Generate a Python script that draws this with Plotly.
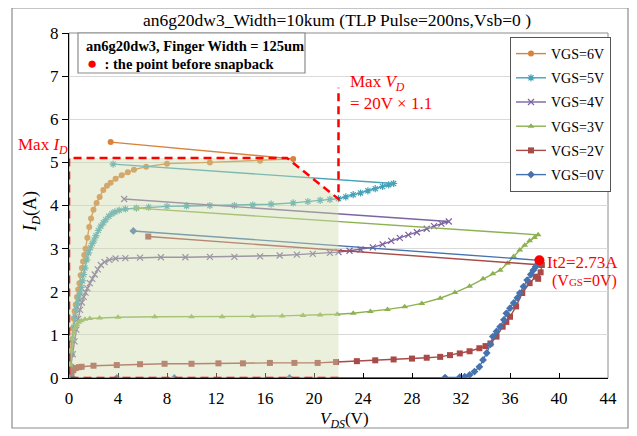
import plotly.graph_objects as go

# ---------------- data ----------------
v_6 = [0, 0.08, 0.15, 0.22, 0.3, 0.38, 0.46, 0.55, 0.65, 0.75, 0.85, 0.95, 1.05, 1.15, 1.25, 1.35, 1.5, 1.65,
       1.8, 2.0, 2.25, 2.5, 2.8, 3.1, 3.4, 3.8, 4.3, 4.8, 5.3, 6.3, 8.0, 11.5, 15.6, 18.3, 3.4]
i_6 = [0, 0.3, 0.6, 0.9, 1.15, 1.38, 1.55, 1.7, 1.88, 2.05, 2.2, 2.38, 2.55, 2.7, 2.85, 3.0, 3.25, 3.5,
       3.7, 3.9, 4.06, 4.2, 4.36, 4.46, 4.53, 4.62, 4.7, 4.77, 4.83, 4.9, 4.97, 5.0, 5.04, 5.08, 5.47]

v_5 = [0, 0.1, 0.2, 0.3, 0.4, 0.5, 0.6, 0.7, 0.8, 0.9, 1.0, 1.1, 1.2, 1.3, 1.45, 1.6, 1.75, 1.9, 2.05, 2.2,
       2.4, 2.6, 2.8, 3.0, 3.25, 3.5, 3.75, 4.1, 4.6, 5.5, 6.5, 8.0, 9.6, 11.5, 13.5, 15.0, 16.5, 18.3, 19.5,
       20.5, 21.3, 22.0, 22.6, 23.2, 23.8, 24.4, 25.0, 25.6, 26.1, 26.5, 3.6]
i_5 = [0, 0.25, 0.55, 0.88, 1.18, 1.42, 1.6, 1.73, 1.85, 1.97, 2.1, 2.25, 2.4, 2.55, 2.74, 2.9, 3.02, 3.12,
       3.2, 3.3, 3.42, 3.52, 3.6, 3.67, 3.75, 3.81, 3.85, 3.89, 3.92, 3.94, 3.96, 3.98, 3.99, 4.0, 4.0, 4.01,
       4.03, 4.06, 4.09, 4.12, 4.14, 4.16, 4.2, 4.25, 4.29, 4.34, 4.39, 4.44, 4.48, 4.51, 4.96]

v_4 = [0, 0.15, 0.3, 0.45, 0.6, 0.75, 0.9, 1.05, 1.2, 1.35, 1.5, 1.7, 1.9, 2.1, 2.35, 2.6, 2.9, 3.3, 3.8,
       4.6, 5.8, 7.5, 9.5, 11.5, 13.5, 15.6, 17.2, 18.6, 19.9, 21.3, 22.0, 22.9, 23.8, 24.8, 25.6, 26.3, 27.0,
       27.7, 28.4, 29.2, 29.8, 30.4, 31.0, 4.5]
i_4 = [0, 0.25, 0.55, 0.85, 1.12, 1.37, 1.58, 1.75, 1.88, 1.98, 2.08, 2.2, 2.3, 2.4, 2.52, 2.62, 2.69, 2.74,
       2.77, 2.78, 2.79, 2.8, 2.8, 2.81, 2.81, 2.82, 2.84, 2.86, 2.88, 2.9, 2.92, 2.95, 2.98, 3.03, 3.1, 3.18,
       3.25, 3.32, 3.38, 3.46, 3.52, 3.58, 3.63, 4.15]

v_3 = [0, 0.1, 0.2, 0.3, 0.4, 0.5, 0.65, 0.8, 1.0, 1.3, 1.7, 2.5, 4.0, 7.0, 10.0, 12.5, 15.0, 17.4, 19.1,
       20.5, 21.9, 23.2, 24.6, 26.0, 27.4, 28.8, 30.3, 31.5, 32.7, 33.8, 34.6, 35.2, 35.8, 36.3, 36.8, 37.2,
       37.6, 38.0, 38.3, 5.5]
i_3 = [0, 0.3, 0.62, 0.9, 1.05, 1.15, 1.24, 1.29, 1.33, 1.36, 1.38, 1.39, 1.41, 1.42, 1.42, 1.42, 1.43, 1.44,
       1.45, 1.46, 1.48, 1.5, 1.54, 1.59, 1.65, 1.73, 1.85, 1.98, 2.13, 2.3, 2.42, 2.5, 2.66, 2.82, 2.97, 3.08,
       3.18, 3.26, 3.32, 3.94]

v_2 = [0, 0.1, 0.2, 0.35, 0.55, 0.8, 1.03, 2.0, 3.9, 5.8, 7.8, 10.0, 12.2, 14.2, 16.4, 18.4, 20.3, 21.8, 23.5,
       25.0, 26.5, 28.0, 29.2, 30.3, 31.1, 31.9, 32.7, 33.5, 34.0, 34.4, 34.9, 35.4, 35.7, 36.0, 36.5, 37.0,
       37.6, 38.1, 38.3, 38.5, 38.6, 6.47]
i_2 = [0, 0.03, 0.1, 0.18, 0.23, 0.25, 0.26, 0.285, 0.3, 0.32, 0.33, 0.33, 0.34, 0.34, 0.35, 0.35, 0.35, 0.37,
       0.39, 0.41, 0.43, 0.45, 0.47, 0.49, 0.53, 0.57, 0.62, 0.69, 0.74, 0.8, 0.96, 1.19, 1.3, 1.42, 1.66, 1.97,
       2.2, 2.35, 2.3, 2.45, 2.62, 3.28]

v_0 = [0, 0.3, 3.9, 8.6, 18.0, 30.7, 31.9, 32.3, 32.7, 33.1, 33.5, 33.8, 34.1, 34.4, 34.6, 34.9, 35.2, 35.5,
       35.7, 36.0, 36.3, 36.6, 36.8, 37.1, 37.4, 37.7, 37.9, 38.1, 38.3, 38.4, 5.25]
i_0 = [0, 0, 0, 0, 0, 0.01, 0.02, 0.03, 0.07, 0.15, 0.26, 0.42, 0.58, 0.78, 0.96, 1.08, 1.19, 1.35, 1.5,
       1.62, 1.74, 1.86, 1.97, 2.12, 2.27, 2.4, 2.5, 2.58, 2.66, 2.73, 3.41]

snap_v = [38.4]
snap_i = [2.73]

# safe-operating region outline (Max ID / Max VD)
soa_v = [0, 0, 17.8, 22, 22]
soa_i = [0, 5.1, 5.1, 4.15, 0]
max_vd_top = 6.73

series = [
    ("VGS=6V", v_6, i_6, "#D9823B", "circle", 6),
    ("VGS=5V", v_5, i_5, "#46A2B6", "asterisk-open", 6),
    ("VGS=4V", v_4, i_4, "#7B64A0", "x-thin-open", 6),
    ("VGS=3V", v_3, i_3, "#8DB050", "triangle-up", 6),
    ("VGS=2V", v_2, i_2, "#A84A48", "square", 6),
    ("VGS=0V", v_0, i_0, "#4672AD", "diamond", 6),
]

FONT = "Liberation Serif"

fig = go.Figure()
for k, (name, vx, iy, col, sym, sz) in enumerate(series):
    mk = dict(symbol=sym, size=sz, color=col)
    if "open" in sym:
        mk["line"] = dict(width=1.2, color=col)
    fig.add_trace(go.Scatter(
        x=vx, y=iy, mode="lines+markers", name=name,
        line=dict(color=col, width=1.4), marker=mk,
        legendgroup=name,
    ))

fig.add_trace(go.Scatter(x=snap_v, y=snap_i, mode="markers", showlegend=False,
                         marker=dict(color="#FF0000", size=10)))

# page body has an 8px margin: figure is placed at (8, 8) in the window
OFF = 8
W, H = 637 - OFF, 436 - OFF
# plot area in window pixels
L, R, T, B = 69, 608, 33, 378

def px(x):
    return (x - L) / (R - L)

def py(y):
    return (B - y) / (B - T)

path_fill = "M {} {} ".format(soa_v[0], soa_i[0]) + " ".join(
    "L {} {}".format(a, b) for a, b in zip(soa_v[1:], soa_i[1:])) + " Z"
path_line = "M {} {} ".format(soa_v[-1], soa_i[-1]) + "L {} {} ".format(soa_v[0], soa_i[0]) + " ".join(
    "L {} {}".format(a, b) for a, b in zip(soa_v[1:-1], soa_i[1:-1])) + " L {} {}".format(soa_v[-1], max_vd_top)

shapes = [
    dict(type="rect", xref="paper", yref="paper", x0=px(12), x1=px(628), y0=py(428), y1=py(8),
         line=dict(color="#8C8C8C", width=1.2), layer="below"),
    dict(type="rect", xref="paper", yref="paper", x0=0, x1=1, y0=0, y1=1,
         line=dict(color="#8C8C8C", width=1), layer="below"),
    dict(type="path", xref="x", yref="y", path=path_fill,
         fillcolor="rgba(205,220,172,0.42)", line=dict(width=0), layer="above"),
    dict(type="path", xref="x", yref="y", path=path_line,
         line=dict(color="#FF0000", width=2.5, dash="8px,5px"), layer="above"),
    dict(type="rect", xref="paper", yref="paper", x0=px(78), x1=px(305), y0=py(73), y1=py(33),
         fillcolor="white", line=dict(color="#8C8C8C", width=1.2), layer="above"),
]

annotations = [
    dict(xref="paper", yref="paper", x=px(84), y=py(46), xanchor="left", yanchor="middle",
         text="<b>an6g20dw3, Finger Width = 125um</b>", showarrow=False,
         font=dict(family=FONT, size=14.5, color="black")),
    dict(xref="paper", yref="paper", x=px(85), y=py(63), xanchor="left", yanchor="middle",
         text="<span style='color:#FF0000;font-size:17px'>●</span><b>  : the point before snapback</b>",
         showarrow=False, font=dict(family=FONT, size=14.5, color="black")),
    dict(xref="paper", yref="paper", x=px(70), y=py(146), xanchor="right", yanchor="middle",
         text="Max <i>I<sub>D</sub></i>", showarrow=False,
         font=dict(family=FONT, size=17, color="#FF0000")),
    dict(xref="paper", yref="paper", x=px(348), y=py(92), xanchor="left", yanchor="middle",
         text="Max <i>V<sub>D</sub></i><br>= 20V × 1.1", showarrow=False, align="left",
         font=dict(family=FONT, size=17, color="#FF0000")),
    dict(xref="paper", yref="paper", x=px(582), y=py(262), xanchor="center", yanchor="middle",
         text="It2=2.73A", showarrow=False,
         font=dict(family=FONT, size=17, color="#FF0000")),
    dict(xref="paper", yref="paper", x=px(584), y=py(281), xanchor="center", yanchor="middle",
         text="(V<span style='font-size:11px'>GS</span>=0V)", showarrow=False,
         font=dict(family=FONT, size=16, color="#FF0000")),
    dict(xref="paper", yref="paper", x=px(344), y=py(420), xanchor="center", yanchor="middle",
         text="<i>V<sub>DS</sub></i>(V)", showarrow=False,
         font=dict(family=FONT, size=17, color="black")),
    dict(xref="paper", yref="paper", x=px(31), y=py(212), xanchor="center", yanchor="middle",
         text="<i>I<sub>D</sub></i>(A)", showarrow=False, textangle=-90,
         font=dict(family=FONT, size=18, color="black")),
]

fig.update_layout(
    width=W, height=H,
    margin=dict(l=L - OFF, r=(OFF + W) - R, t=T - OFF, b=(OFF + H) - B, autoexpand=False),
    paper_bgcolor="white", plot_bgcolor="white",
    font=dict(family=FONT, size=16, color="black"),
    title=dict(text="an6g20dw3_Width=10kum (TLP Pulse=200ns,Vsb=0 )", x=(337 - OFF) / W, xanchor="center",
               xref="container", yref="container", y=1 - (20 - OFF) / H, yanchor="middle",
               font=dict(family=FONT, size=17.5, color="black")),
    xaxis=dict(range=[0, 44], tickvals=[0, 4, 8, 12, 16, 20, 24, 28, 32, 36, 40, 44],
               showgrid=False, zeroline=False, showline=True, linecolor="black", linewidth=1,
               ticks="inside", ticklen=5, tickcolor="black", ticklabelstandoff=5,
               tickfont=dict(family=FONT, size=17, color="black")),
    yaxis=dict(range=[0, 8], tickvals=list(range(0, 9)),
               showgrid=True, gridcolor="#D9D9D9", gridwidth=1, zeroline=False,
               showline=True, linecolor="black", linewidth=1,
               ticks="outside", ticklen=6, tickcolor="black",
               tickfont=dict(family=FONT, size=17, color="black")),
    legend=dict(x=px(510), y=py(37), xanchor="left", yanchor="top",
                bgcolor="white", bordercolor="#555555", borderwidth=1,
                font=dict(family=FONT, size=14, color="black"),
                tracegroupgap=3, itemwidth=30),
    shapes=shapes, annotations=annotations,
    showlegend=True,
)

fig.write_html("out.html")
